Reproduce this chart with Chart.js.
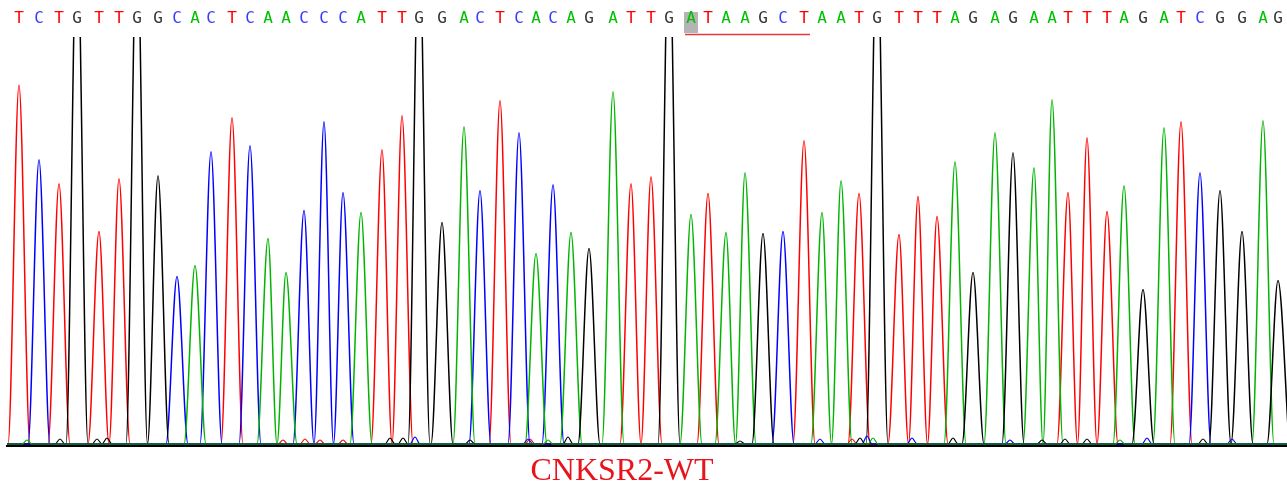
<!DOCTYPE html>
<html>
<head>
<meta charset="utf-8">
<script src="https://cdn.jsdelivr.net/npm/chart.js@4.4.1/dist/chart.umd.min.js"></script>
<style>
    body { margin: 0; background: #fff; }
    #wrap { position: relative; width: 1287px; height: 484px; }
    #label {
        position: absolute; left: 472px; top: 453px; width: 300px;
        text-align: center; font-family: 'Liberation Serif', 'Times New Roman', serif;
        font-size: 32px; line-height: 32px; color: #e8141c;
    }
</style>
</head>
<body>
<div id="wrap">
    <canvas id="trace" width="1287" height="484"></canvas>
    <div id="label">CNKSR2-WT</div>
</div>
<script>
// Base calls, left to right
const bases = 'TCTGTTGGCACTCAACCCATTGGACTCACAGATTGATAAGCTAATGTTTAGAGAATTTAGATCGGAG'.split('');

// Peak centre (scan position) for each base call
const peakPos = [
    19, 39, 59, 77, 99, 119, 137, 158, 177, 195,
    211, 232, 250, 268, 286, 304, 324, 343, 361, 382,
    402, 419, 442, 464, 480, 500, 519, 536, 553, 571,
    589, 613, 631, 651, 669, 691, 708, 726, 745, 763,
    783, 804, 822, 841, 859, 877, 899, 918, 937, 955,
    973, 995, 1013, 1034, 1052, 1068, 1087, 1107, 1124, 1143,
    1164, 1181, 1200, 1220, 1242, 1263, 1278
];

// Peak signal for each base call (G peaks at 520 run off the top of the panel)
const peakHeight = [
    360, 285, 261, 520, 213, 266, 520, 269, 168, 179,
    293, 327, 299, 206, 172, 234, 323, 252, 232, 295,
    329, 520, 222, 318, 254, 344, 312, 191, 260, 212,
    196, 353, 261, 268, 520, 230, 251, 212, 272, 211,
    213, 304, 232, 264, 251, 520, 210, 248, 228, 283,
    172, 312, 292, 277, 345, 252, 307, 233, 259, 155,
    317, 323, 272, 254, 213, 324, 164
];

// Small baseline bumps per channel: positions and heights
const noisePosA = [27, 548, 873, 1120];
const noiseHtA = [4, 4, 6, 4];
const noisePosC = [415, 528, 820, 867, 912, 1010, 1147, 1232];
const noiseHtC = [7, 5, 5, 8, 6, 4, 6, 5];
const noisePosG = [60, 97, 107, 390, 403, 470, 568, 740, 860, 953, 1042, 1065, 1087, 1203];
const noiseHtG = [5, 5, 6, 6, 6, 4, 7, 3, 6, 6, 4, 5, 5, 5];
const noisePosT = [283, 305, 320, 343, 530, 852];
const noiseHtT = [4, 5, 4, 4, 5, 5];

const HL_START = 35;   // highlighted base
const HL_END = 41;     // end of underlined motif

const X_MIN = 7, X_MAX = 1287;
const Y_MIN = -2, Y_MAX = 408;
const HALF = 11, HALF_NOISE = 5;

const traceColor = { A: '#00b400', C: '#0000ff', G: '#000000', T: '#ff0000' };
const letterColor = { A: '#00c000', C: '#3a3aff', G: '#333333', T: '#ff0000' };

// turn a list of peaks into line points: foot, apex, foot
function channelPoints(pos, ht, half) {
    const pts = [{ x: X_MIN, y: 0 }];
    let lastApex = null;
    pos.forEach((x, k) => {
        const last = pts[pts.length - 1];
        if (lastApex !== null && last.x > x - half) {
            last.x = (lastApex + x) / 2;
        } else {
            pts.push({ x: x - half, y: 0 });
        }
        pts.push({ x: x, y: ht[k] });
        pts.push({ x: x + half, y: 0 });
        lastApex = x;
    });
    if (pts[pts.length - 1].x < X_MAX) pts.push({ x: X_MAX, y: 0 });
    return pts;
}

function baseChannel(b) {
    const pos = [], ht = [];
    bases.forEach((c, i) => { if (c === b) { pos.push(peakPos[i]); ht.push(peakHeight[i]); } });
    return channelPoints(pos, ht, HALF);
}

function traceSet(data, b, width) {
    return {
        data: data,
        borderColor: traceColor[b],
        borderWidth: width,
        pointRadius: 0,
        fill: false,
        cubicInterpolationMode: 'monotone'
    };
}

const datasets = [
    traceSet(channelPoints(noisePosA, noiseHtA, HALF_NOISE), 'A', 1.2),
    traceSet(channelPoints(noisePosC, noiseHtC, HALF_NOISE), 'C', 1.2),
    traceSet(channelPoints(noisePosG, noiseHtG, HALF_NOISE), 'G', 1.2),
    traceSet(channelPoints(noisePosT, noiseHtT, HALF_NOISE), 'T', 1.2),
    traceSet(baseChannel('G'), 'G', 1.5),
    traceSet(baseChannel('A'), 'A', 1.5),
    traceSet(baseChannel('C'), 'C', 1.5),
    traceSet(baseChannel('T'), 'T', 1.5)
];

// grey box on the selected base and red underline under the motif
const markPlugin = {
    id: 'mark',
    beforeDraw(chart) {
        const s = chart.scales.top;
        const ctx = chart.ctx;
        const x0 = s.getPixelForValue(peakPos[HL_START]);
        const x1 = s.getPixelForValue(peakPos[HL_END]);
        ctx.save();
        ctx.fillStyle = '#b4b4b4';
        ctx.fillRect(x0 - 7, 12, 14, 21);
        ctx.strokeStyle = '#e33b3b';
        ctx.lineWidth = 1.5;
        ctx.beginPath();
        ctx.moveTo(x0 - 6, 34.5);
        ctx.lineTo(x1 + 6, 34.5);
        ctx.stroke();
        ctx.restore();
    }
};

function noSidePadding(s) {
    s.paddingLeft = 0;
    s.paddingRight = 0;
}

new Chart(document.getElementById('trace').getContext('2d'), {
    type: 'line',
    data: { datasets: datasets },
    plugins: [markPlugin],
    options: {
        responsive: false,
        animation: false,
        devicePixelRatio: 1,
        layout: { padding: { left: 7, right: 0, top: 0, bottom: 38 } },
        plugins: { legend: { display: false }, tooltip: { enabled: false } },
        scales: {
            x: {
                type: 'linear', position: 'bottom', min: X_MIN, max: X_MAX,
                grid: { display: false, drawTicks: false },
                ticks: { display: false },
                border: { display: true, color: '#000', width: 2 },
                afterFit: s => { s.height = 0; noSidePadding(s); }
            },
            top: {
                type: 'linear', position: 'top', min: X_MIN, max: X_MAX,
                grid: { display: false, drawTicks: false },
                border: { display: false },
                afterBuildTicks: s => { s.ticks = peakPos.map(v => ({ value: v })); },
                ticks: {
                    autoSkip: false, maxRotation: 0, minRotation: 0, padding: 9,
                    font: { family: 'DejaVu Sans Mono', size: 16 },
                    color: c => letterColor[bases[c.index]],
                    callback: (v, i) => bases[i]
                },
                afterFit: s => { s.height = 37; noSidePadding(s); }
            },
            y: { display: false, min: Y_MIN, max: Y_MAX }
        }
    }
});
</script>
</body>
</html>
